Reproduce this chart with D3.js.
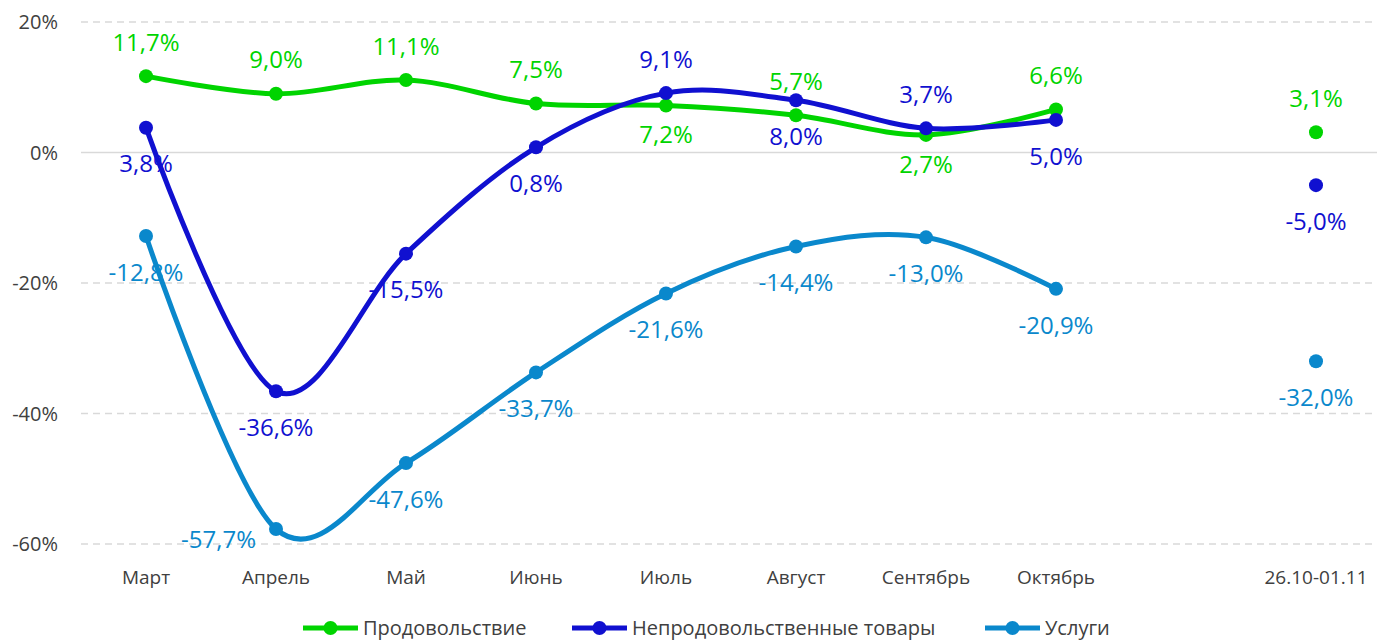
<!DOCTYPE html>
<html>
<head>
<meta charset="utf-8">
<script src="https://cdn.jsdelivr.net/npm/d3@7"></script>
<style>
  body { margin: 0; background: #fff; }
  text { font-family: "Open Sans", "Noto Sans", sans-serif; }
</style>
</head>
<body>
<script>
// categories ("" = empty slot before the last week)
var categories = ["Март", "Апрель", "Май", "Июнь", "Июль", "Август", "Сентябрь", "Октябрь", "", "26.10-01.11"];

// values, %
var food     = [11.7, 9.0, 11.1, 7.5, 7.2, 5.7, 2.7, 6.6, null, 3.1];
var nonFood  = [3.8, -36.6, -15.5, 0.8, 9.1, 8.0, 3.7, 5.0, null, -5.0];
var services = [-12.8, -57.7, -47.6, -33.7, -21.6, -14.4, -13.0, -20.9, null, -32.0];

var yTicks = [20, 0, -20, -40, -60];

// where each label sits relative to its point: t = top, b = bottom, l = left
var foodPos     = ["t", "t", "t", "t", "b", "t", "b", "t", null, "t"];
var nonFoodPos  = ["b", "b", "b", "b", "t", "b", "t", "b", null, "b"];
var servicesPos = ["b", "l", "b", "b", "b", "b", "b", "b", null, "b"];

var series = [
  {name: "Продовольствие", values: food, pos: foodPos, color: "#00d400"},
  {name: "Непродовольственные товары", values: nonFood, pos: nonFoodPos, color: "#1010d0"},
  {name: "Услуги", values: services, pos: servicesPos, color: "#0a88cc"}
];

var W = 1377, H = 640;
var svg = d3.select("body").append("svg").attr("width", W).attr("height", H);

var x = d3.scaleBand().domain(d3.range(categories.length)).range([81, 1381]);
var cx = function(i) { return x(i) + x.bandwidth() / 2; };
var y = d3.scaleLinear().domain([-60, 20]).range([544, 22]);

// gridlines
svg.append("g").selectAll("line").data(yTicks).join("line")
  .attr("x1", 81).attr("x2", W)
  .attr("y1", function(d) { return y(d); }).attr("y2", function(d) { return y(d); })
  .attr("stroke", "#d9d9d9").attr("stroke-width", 1.5)
  .attr("stroke-dasharray", function(d) { return d === 0 ? null : "7,5"; });

// y axis labels
svg.append("g").selectAll("text").data(yTicks).join("text")
  .attr("x", 58).attr("y", function(d) { return y(d); })
  .attr("dy", "0.36em").attr("text-anchor", "end")
  .attr("font-size", 20).attr("fill", "#404040")
  .text(function(d) { return d + "%"; });

// x axis labels
svg.append("g").selectAll("text").data(categories).join("text")
  .attr("x", function(d, i) { return cx(i); }).attr("y", 577)
  .attr("dy", "0.36em").attr("text-anchor", "middle")
  .attr("font-size", 19).attr("fill", "#404040")
  .text(function(d) { return d; });

var line = d3.line()
  .defined(function(d) { return d != null; })
  .x(function(d, i) { return cx(i); })
  .y(function(d) { return y(d); })
  .curve(d3.curveCatmullRom.alpha(0));

var fmt = function(v) { return v.toFixed(1).replace(".", ",") + "%"; };

series.forEach(function(s, k) {
  var g = svg.append("g");
  // connected part (monthly) only
  var monthly = s.values.slice(0, 8);
  g.append("path").datum(monthly)
    .attr("fill", "none").attr("stroke", s.color)
    .attr("stroke-width", 5).attr("stroke-linejoin", "round")
    .attr("d", line);

  var pts = s.values.map(function(v, i) { return {v: v, i: i, p: s.pos[i]}; })
    .filter(function(d) { return d.v != null; });

  g.selectAll("circle").data(pts).join("circle")
    .attr("cx", function(d) { return cx(d.i); })
    .attr("cy", function(d) { return y(d.v); })
    .attr("r", 7).attr("fill", s.color);

  g.selectAll("text").data(pts).join("text")
    .attr("x", function(d) {
      if (d.p === "l") return cx(d.i) - 20;
      return cx(d.i);
    })
    .attr("y", function(d) {
      var py = y(d.v);
      if (d.p === "t") return py - 34;
      if (d.p === "b") return py + (k === 0 ? 29 : 36);
      return py + 10;
    })
    .attr("dy", "0.36em")
    .attr("text-anchor", function(d) { return d.p === "l" ? "end" : "middle"; })
    .attr("font-size", 24).attr("fill", s.color)
    .text(function(d) { return fmt(d.v); });
});

// legend
var legendX = [303, 572, 985];
var lg = svg.append("g").selectAll("g").data(series).join("g")
  .attr("transform", function(d, i) { return "translate(" + legendX[i] + ",628)"; });
lg.append("line").attr("x1", 0).attr("x2", 55)
  .attr("stroke", function(d) { return d.color; }).attr("stroke-width", 5);
lg.append("circle").attr("cx", 27.5).attr("r", 7).attr("fill", function(d) { return d.color; });
lg.append("text").attr("x", 60).attr("dy", "0.36em")
  .attr("font-size", 20).attr("fill", "#404040")
  .text(function(d) { return d.name; });
</script>
</body>
</html>
